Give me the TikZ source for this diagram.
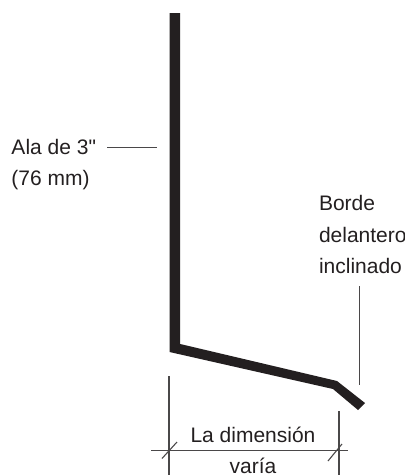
\documentclass[tikz,border=0pt]{standalone}
\usepackage{fontspec}
\setmainfont{Liberation Sans}
\newfontfamily\plainquote{Liberation Sans}
\definecolor{ink}{HTML}{231F20}
\definecolor{rule}{HTML}{4A4849}
\tikzset{
  lbl/.style={anchor=base west,inner sep=0pt,outer sep=0pt,text=ink,font=\fontsize{21}{32}\selectfont},
  thin rule/.style={draw=rule,line width=1.1pt},
  flashing/.style={fill=ink,draw=none}
}
\begin{document}
\begin{tikzpicture}[x=1pt,y=-1pt]
\useasboundingbox (0,0) rectangle (405,475);
\fill[flashing] (169.5,13) -- (180.2,13) -- (180.2,344) -- (337,381) -- (365,403) -- (358,410) -- (333,389) -- (169.5,352) -- cycle;
\node[lbl] (ala) at (11.5,154) {Ala de 3{\plainquote\char34}};
\node[lbl] (mm) at (11.5,185) {(76 mm)};
\node[lbl] (borde) at (319,210) {Borde};
\node[lbl] (del) at (319,242) {delantero};
\node[lbl] (inc) at (319,273) {inclinado};
\node[lbl,anchor=base] (dim) at (253,442) {La dimensión};
\node[lbl,anchor=base] (var) at (253,473) {varía};
\coordinate (alaA) at (107,147.5);
\coordinate (alaB) at (157,147.5);
\coordinate (incA) at (359.5,286);
\coordinate (incB) at (359.5,385);
\coordinate (v1a) at (169,376);
\coordinate (v1b) at (169,475);
\coordinate (v2a) at (339,411);
\coordinate (v2b) at (339,475);
\coordinate (hA) at (151,450.7);
\coordinate (hB) at (348,450.7);
\coordinate (t1a) at (162,458.5);
\coordinate (t1b) at (177,442);
\coordinate (t2a) at (328,461);
\coordinate (t2b) at (342,444);
\draw[thin rule] (alaA) -- (alaB);
\draw[thin rule] (incA) -- (incB);
\draw[thin rule] (v1a) -- (v1b);
\draw[thin rule] (v2a) -- (v2b);
\draw[thin rule] (hA) -- (hB);
\draw[thin rule] (t1a) -- (t1b);
\draw[thin rule] (t2a) -- (t2b);
\end{tikzpicture}
\end{document}
